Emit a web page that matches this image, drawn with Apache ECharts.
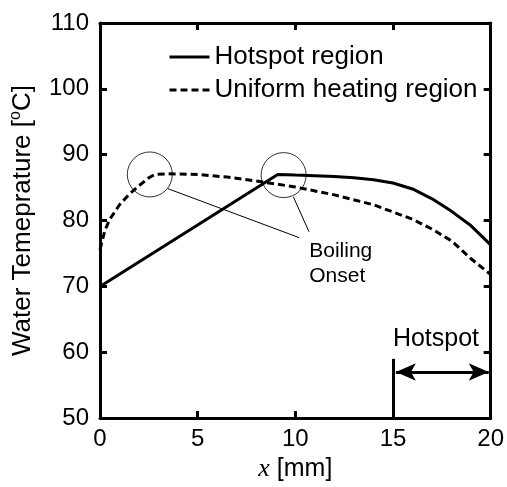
<!DOCTYPE html>
<html>
<head>
<meta charset="utf-8">
<title>Water temperature</title>
<script src="https://cdn.jsdelivr.net/npm/echarts@6/dist/echarts.min.js"></script>
<style>
  html, body { margin: 0; padding: 0; background: #fff; }
  #chart { width: 507px; height: 487px; }
</style>
</head>
<body>
<div id="chart"></div>
<script>
// Hotspot region (solid)
const hotspotX = [0, 9.1, 10, 11, 12, 13, 14, 15, 16, 17, 18, 19, 20];
const hotspotY = [70, 87, 86.9, 86.8, 86.7, 86.5, 86.2, 85.7, 84.8, 83.3, 81.4, 79.2, 76.3];

// Uniform heating region (dashed)
const uniformX = [0, 0.25, 0.5, 1, 1.5, 2, 2.5, 2.8, 3.5, 5, 6.5, 8, 10, 12, 14, 16, 17, 18, 19, 20];
const uniformY = [75.6, 78.5, 80.2, 82.4, 84.0, 85.3, 86.5, 87.0, 87.1, 87.0, 86.6, 86.0, 85.1, 83.9, 82.4, 80.2, 78.7, 76.9, 74.2, 71.8];

// boiling onset circles
const onsetX = [2.55, 9.4];
const onsetY = [87.0, 86.9];

const xTicks = [0, 5, 10, 15, 20];
const yTicks = [50, 60, 70, 80, 90, 100, 110];

const font = 'Liberation Sans, Arial, sans-serif';

const pair = (xs, ys) => xs.map((x, i) => [x, ys[i]]);

const chart = echarts.init(document.getElementById('chart'));

const axisCommon = {
  type: 'value',
  axisLine: { show: true, onZero: false, lineStyle: { color: '#000', width: 3 } },
  axisTick: { show: true, inside: true, length: 7, lineStyle: { color: '#000', width: 3 } },
  splitLine: { show: false }
};

const option = {
  animation: false,
  backgroundColor: '#fff',
  grid: { left: 100, right: 14, top: 23, bottom: 67 },
  legend: {
    data: ['Hotspot region', 'Uniform heating region'],
    orient: 'vertical',
    left: 163,
    top: 37,
    itemWidth: 40,
    itemHeight: 14,
    itemGap: 3,
    itemStyle: { opacity: 0 },
    lineStyle: { width: 3 },
    textStyle: { fontFamily: font, fontSize: 26, color: '#000', lineHeight: 30 }
  },
  xAxis: [
    Object.assign({}, axisCommon, {
      min: xTicks[0], max: xTicks[xTicks.length - 1], interval: 5,
      position: 'bottom',
      axisLabel: { fontFamily: font, fontSize: 24, color: '#000', margin: 9 },
      name: '{i|x} [mm]',
      nameLocation: 'middle',
      nameGap: 37,
      nameTextStyle: {
        fontFamily: font, fontSize: 25, color: '#000',
        rich: { i: { fontFamily: 'Liberation Serif, Times New Roman, serif', fontStyle: 'italic', fontSize: 26 } }
      }
    }),
    Object.assign({}, axisCommon, {
      min: xTicks[0], max: xTicks[xTicks.length - 1], interval: 5,
      position: 'top',
      axisLabel: { show: false }
    })
  ],
  yAxis: [
    Object.assign({}, axisCommon, {
      min: yTicks[0], max: yTicks[yTicks.length - 1], interval: 10,
      position: 'left',
      axisLabel: { fontFamily: font, fontSize: 24, color: '#000', margin: 11 },
      name: '{a|Water Temeprature [}{s|o}{a|C]}',
      nameLocation: 'middle',
      nameGap: 62,
      nameTextStyle: {
        color: '#000',
        rich: {
          a: { fontFamily: font, fontSize: 26, lineHeight: 30, color: '#000' },
          s: { fontFamily: font, fontSize: 16, lineHeight: 18, verticalAlign: 'top', color: '#000' }
        }
      }
    }),
    Object.assign({}, axisCommon, {
      min: yTicks[0], max: yTicks[yTicks.length - 1], interval: 10,
      position: 'right',
      axisLabel: { show: false }
    })
  ],
  series: [
    {
      name: 'Hotspot region',
      type: 'line',
      data: pair(hotspotX, hotspotY),
      showSymbol: false,
      symbol: 'none',
      color: '#000',
      lineStyle: { color: '#000', width: 3 },
      z: 5
    },
    {
      name: 'Uniform heating region',
      type: 'line',
      data: pair(uniformX, uniformY),
      showSymbol: false,
      symbol: 'none',
      color: '#000',
      lineStyle: { color: '#000', width: 3, type: [7, 4] },
      z: 4
    },
    {
      name: 'onset',
      type: 'scatter',
      data: pair(onsetX, onsetY),
      symbol: 'circle',
      symbolSize: 45,
      silent: true,
      itemStyle: { color: 'rgba(0,0,0,0)', borderColor: '#000', borderWidth: 1 },
      markLine: {
        silent: true,
        symbol: 'none',
        label: { show: false },
        lineStyle: { color: '#000', width: 1, type: 'solid' },
        data: [
          [{ coord: [3.47, 84.85] }, { coord: [10.2, 77.4] }],
          [{ coord: [9.9, 83.6] }, { coord: [10.7, 78.3] }]
        ]
      },
      markPoint: {
        silent: true,
        symbol: 'circle',
        symbolSize: 0,
        data: [
          {
            coord: [10.71, 73.4],
            label: {
              show: true, position: 'right', distance: 0, align: 'left',
              formatter: 'Boiling\nOnset', fontFamily: font, fontSize: 21, lineHeight: 25, color: '#000'
            }
          },
          {
            coord: [17.2, 62.0],
            label: {
              show: true, position: 'inside', formatter: 'Hotspot',
              fontFamily: font, fontSize: 25, color: '#000'
            }
          }
        ]
      }
    },
    {
      name: 'hotspotMark',
      type: 'line',
      data: [],
      markLine: {
        silent: true,
        label: { show: false },
        lineStyle: { color: '#000', width: 3, type: 'solid' },
        data: [
          [{ coord: [15, 50], symbol: 'none' }, { coord: [15, 59], symbol: 'none' }],
          [{ coord: [15.15, 57], symbol: 'arrow', symbolSize: [13, 20] },
           { coord: [19.9, 57], symbol: 'arrow', symbolSize: [13, 20] }]
        ]
      }
    }
  ]
};

chart.setOption(option);

window.addEventListener('resize', function () {
  chart.resize();
});
</script>
</body>
</html>
